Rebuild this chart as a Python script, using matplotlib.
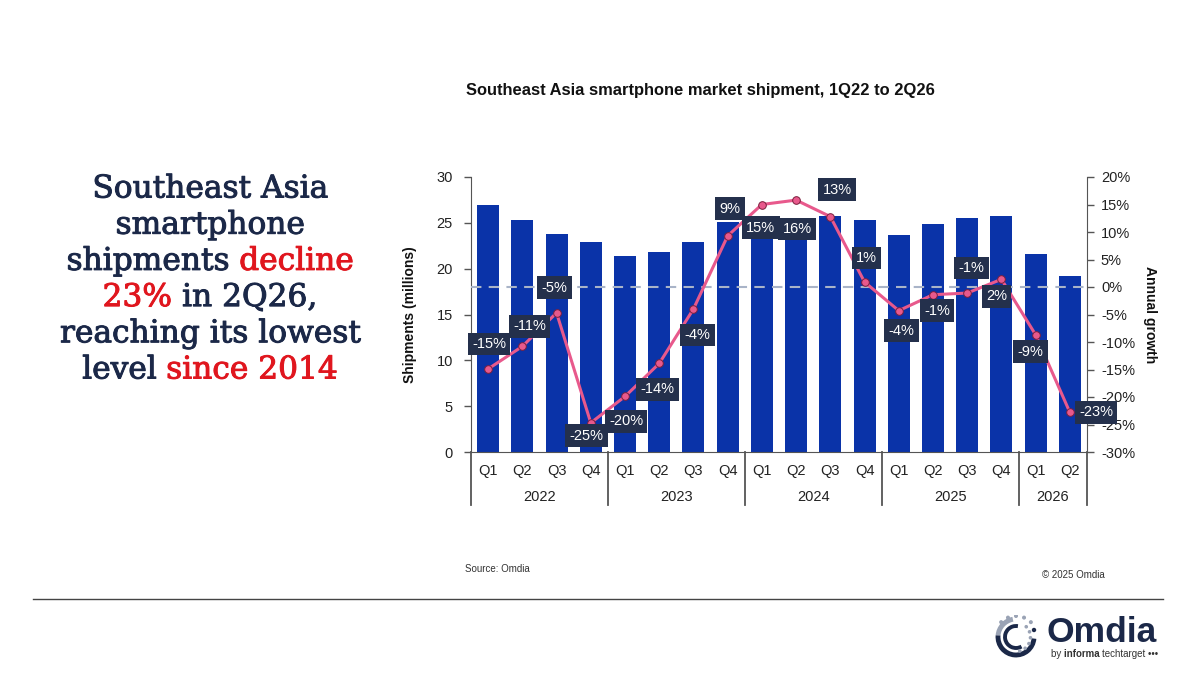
import matplotlib.pyplot as plt
import matplotlib.patheffects as pe
import numpy as np
from matplotlib.patches import Arc, Circle
from matplotlib.transforms import blended_transform_factory

plt.rcParams['font.family'] = ['Liberation Sans', 'DejaVu Sans']

# data
quarters = ['Q1', 'Q2', 'Q3', 'Q4'] * 4 + ['Q1', 'Q2']
years = ['2022', '2023', '2024', '2025', '2026']
quarters_per_year = [4, 4, 4, 4, 2]
shipments = [26.9, 25.3, 23.8, 22.9, 21.4, 21.8, 22.9, 25.1,
             24.6, 25.2, 25.8, 25.3, 23.7, 24.9, 25.5, 25.7, 21.6, 19.2]
growth = [-14.9, -10.8, -4.7, -24.7, -19.9, -13.9, -4.0, 9.3,
          15.0, 15.8, 12.8, 0.9, -4.3, -1.4, -1.1, 1.4, -8.7, -22.8]
growth_labels = ['-15%', '-11%', '-5%', '-25%', '-20%', '-14%', '-4%', '9%',
                 '15%', '16%', '13%', '1%', '-4%', '-1%', '-1%', '2%', '-9%', '-23%']

# where each growth label sits relative to its point (pixels)
label_offsets = [(1, 25), (7, 20), (-2, 25), (-4, -13), (1, -25), (-2, -26),
                 (4, -26), (2, 27), (-1, -23), (1, -29), (7, 27), (2, 24),
                 (3, -20), (4, -16), (4, 25), (-5, -17), (-5, -17), (26, 0)]

NAVY = '#1B2848'
RED = '#E0161E'
BAR = '#0A33A8'
PINK = '#E8598C'
LABEL_BG = '#24304C'

fig = plt.figure(figsize=(12, 6.75), dpi=100)
ax = fig.add_axes([471 / 1200, 1 - 452 / 675, 616 / 1200, 275 / 675])

x = np.arange(len(shipments))
ax.bar(x, shipments, width=0.64, color=BAR, zorder=2)
ax.set_xlim(-0.5, len(shipments) - 0.5)
ax.set_ylim(0, 30)
ax.set_yticks(range(0, 31, 5))
ax.set_xticks(x)
ax.set_xticklabels(quarters, fontsize=10.5, color='#222222')
ax.tick_params(axis='x', length=0, pad=9)
ax.tick_params(axis='y', direction='out', length=5, width=1, color='#555555',
               labelsize=10.5, labelcolor='#222222', pad=8)
for s in ['top', 'right']:
    ax.spines[s].set_visible(False)
ax.spines['left'].set_color('#555555')
ax.spines['bottom'].set_color('#555555')
ax.set_ylabel('Shipments (millions)', fontsize=10, fontweight='bold',
              color='#111111', labelpad=14)

# year groups below the quarter labels
trans = blended_transform_factory(ax.transData, ax.transAxes)
edges = np.concatenate([[0], np.cumsum(quarters_per_year)]) - 0.5
for e in edges:
    ax.plot([e, e], [0, -0.193], transform=trans, color='#555555',
            lw=1.3, clip_on=False)
for i, yr in enumerate(years):
    ax.text((edges[i] + edges[i + 1]) / 2, -0.165, yr, transform=trans,
            ha='center', va='center', fontsize=10.5, color='#222222')

ax2 = ax.twinx()
ax2.set_ylim(-30, 20)
ax2.set_yticks(range(-30, 21, 5))
ax2.set_yticklabels([f'{v}%' for v in range(-30, 21, 5)])
ax2.tick_params(axis='y', direction='out', length=5, width=1, color='#555555',
                labelsize=10.5, labelcolor='#222222', pad=5)
for s in ['top', 'left', 'bottom']:
    ax2.spines[s].set_visible(False)
ax2.spines['right'].set_color('#555555')
ax2.set_ylabel('Annual growth', fontsize=10, fontweight='bold',
               color='#111111', rotation=-90, labelpad=16)

ax2.axhline(0, color='#A9B4C8', lw=1.5, ls=(0, (5, 3.5)), zorder=1)
ax2.plot(x, growth, color=PINK, lw=2.2, marker='o', markersize=5.5,
         markerfacecolor=PINK, markeredgecolor='#7A1E3C', markeredgewidth=0.7,
         zorder=3)
for xi, g, lab, off in zip(x, growth, growth_labels, label_offsets):
    ax2.annotate(lab, xy=(xi, g), xytext=off, textcoords='offset pixels',
                 ha='center', va='center', fontsize=10.5, color='white',
                 bbox=dict(boxstyle='square,pad=0.3', fc=LABEL_BG, ec='none'),
                 zorder=4, annotation_clip=False)

fig.text(700 / 1200, 1 - 90 / 675,
         'Southeast Asia smartphone market shipment, 1Q22 to 2Q26',
         ha='center', va='center', fontsize=11.9, fontweight='bold', color='#111111')
fig.text(465 / 1200, 1 - 569 / 675, 'Source: Omdia', ha='left', va='center',
         fontsize=7, color='#333333')
fig.text(1105 / 1200, 1 - 575 / 675, '\u00a9 2025 Omdia', ha='right', va='center',
         fontsize=7, color='#333333')
fig.add_artist(plt.Line2D([33 / 1200, 1163 / 1200], [1 - 599 / 675] * 2,
                          color='#444444', lw=1))

# headline with red highlights
headline = [('Southeast Asia', NAVY, '', NAVY),
            ('smartphone', NAVY, '', NAVY),
            ('shipments', NAVY, 'decline', RED),
            ('23%', RED, 'in 2Q26,', NAVY),
            ('reaching its lowest', NAVY, '', NAVY),
            ('level', NAVY, 'since 2014', RED)]
renderer = fig.canvas.get_renderer()
cx = 210
hsize = 22.5
for i, (left, lc, right, rc) in enumerate(headline):
    y = 1 - (189 + i * 36.2) / 675
    full = left + (' ' + right if right else '')
    probe = fig.text(0, y, full, fontsize=hsize, family='DejaVu Serif')
    w = probe.get_window_extent(renderer).width
    probe.remove()
    x0 = (cx - w / 2) / 1200
    x1 = (cx + w / 2) / 1200
    fig.text(x0, y, left, ha='left', va='center', fontsize=hsize,
             family='DejaVu Serif', color=lc,
             path_effects=[pe.withStroke(linewidth=0.7, foreground=lc)])
    if right:
        fig.text(x1, y, right, ha='right', va='center', fontsize=hsize,
                 family='DejaVu Serif', color=rc,
                 path_effects=[pe.withStroke(linewidth=0.7, foreground=rc)])

# Omdia logo
fig.text(1047 / 1200, 1 - 633 / 675, 'Omdia', ha='left', va='center',
         fontsize=25.5, fontweight='bold', color=NAVY)
xpos = 1051
for part, wt in [('by ', 'normal'), ('informa ', 'bold'), ('techtarget \u2022\u2022\u2022', 'normal')]:
    t = fig.text(xpos / 1200, 1 - 654 / 675, part.replace(' ', '\u00a0'), ha='left',
                 va='center', fontsize=7, fontweight=wt, color='#333333')
    xpos += t.get_window_extent(renderer).width
lax = fig.add_axes([994 / 1200, 1 - 659 / 675, 44 / 1200, 44 / 675])
lax.set_xlim(-22, 22)
lax.set_ylim(-22, 22)
lax.set_aspect('equal')
lax.axis('off')
lax.add_patch(Arc((0, 0), 36, 36, theta1=100, theta2=175, lw=3.5, color='#9AA3B5'))
lax.add_patch(Arc((0, 0), 36, 36, theta1=175, theta2=355, lw=3.5, color=NAVY))
lax.add_patch(Arc((0, 0), 22, 22, theta1=80, theta2=300, lw=2.8, color=NAVY))
lax.add_patch(Circle((18, 7), 1.5, color=NAVY))
for a in np.linspace(45, 135, 5):
    lax.add_patch(Circle((21 * np.cos(np.radians(a)), 21 * np.sin(np.radians(a))),
                         1.3, color='#9AA3B5'))
for a in np.linspace(-75, 45, 6):
    lax.add_patch(Circle((14.5 * np.cos(np.radians(a)), 14.5 * np.sin(np.radians(a))),
                         1.1, color='#9AA3B5'))

fig.savefig('out.png', dpi=100)
